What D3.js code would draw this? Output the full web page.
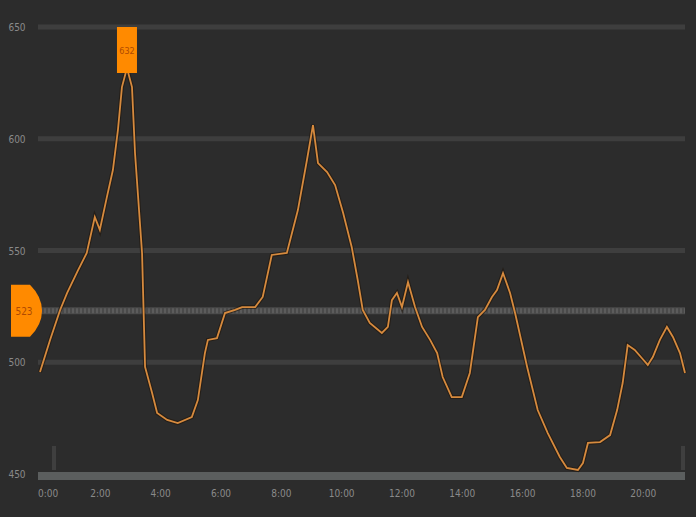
<!DOCTYPE html>
<html>
<head>
<meta charset="utf-8">
<script src="https://cdn.jsdelivr.net/npm/d3@7"></script>
<style>
  html, body { margin: 0; padding: 0; background: #2c2c2c; }
  svg { display: block; }
</style>
</head>
<body>
<div id="chart"></div>
<script>
// Intraday series: minutes since 0:00 and price
const minutes = [0, 20, 40, 54, 76, 93, 109, 119, 133, 145, 155, 163, 173, 183, 189, 203, 209, 223, 233, 253,
    274, 302, 314, 328, 334, 352, 368, 388, 402, 428, 443, 461, 491, 513, 531, 543, 553, 571, 587, 603,
    620, 632, 642, 656, 680, 692, 700, 710, 720, 732, 746, 760, 776, 790, 801, 819, 839, 855, 871, 885,
    899, 909, 921, 935, 945, 969, 990, 1010, 1034, 1048, 1070, 1080, 1090, 1114, 1134, 1148, 1159, 1169, 1183, 1197,
    1209, 1219, 1233, 1247, 1259, 1273, 1283];
const prices = [495.6, 510.0, 523.4, 531.0, 541.3, 548.9, 565.0, 559.2, 573.9, 586.0, 603.9, 623.1, 631.6, 623.1, 593.6, 548.9, 497.9, 486.2, 477.3, 474.2,
    472.8, 475.5, 483.1, 504.1, 510.0, 510.8, 522.0, 523.4, 524.7, 524.7, 529.2, 548.0, 548.9, 568.1, 590.5, 606.1, 589.1, 585.1, 579.3, 566.8,
    551.6, 536.8, 523.4, 517.6, 513.1, 515.8, 527.8, 531.0, 524.7, 535.9, 524.7, 515.8, 510.0, 504.1, 493.4, 484.4, 484.4, 495.2, 520.2, 523.4,
    529.2, 532.3, 539.9, 531.0, 522.0, 497.9, 478.6, 468.3, 457.6, 452.7, 451.8, 454.9, 463.9, 464.3, 467.4, 478.6, 490.7, 507.7, 505.5, 501.9,
    498.8, 502.3, 510.0, 515.8, 511.3, 504.1, 495.2];

const yTicks = [450, 500, 550, 600, 650];
const xTicks = [0, 120, 240, 360, 480, 600, 720, 840, 960, 1080, 1200];
const refValue = 523;

const width = 696, height = 517;
const svg = d3.select("#chart").append("svg")
    .attr("width", width)
    .attr("height", height);

svg.append("rect").attr("width", width).attr("height", height).attr("fill", "#2c2c2c");

const x = d3.scaleLinear().domain([0, 1283]).range([40, 685]);
const y = d3.scaleLinear().domain([450, 650]).range([474, 27]);

const font = "'DejaVu Sans Condensed', 'DejaVu Sans', sans-serif";

// gridlines
svg.append("g")
    .selectAll("line")
    .data(yTicks.slice(1))
    .join("line")
    .attr("x1", 38).attr("x2", 685)
    .attr("y1", d => y(d)).attr("y2", d => y(d))
    .attr("stroke", "#3e3e3e")
    .attr("stroke-width", 5);

// bottom axis band
svg.append("line")
    .attr("x1", 38).attr("x2", 685)
    .attr("y1", y(450) + 2).attr("y2", y(450) + 2)
    .attr("stroke", "#5b5e5e")
    .attr("stroke-width", 8);

// small handles at the ends of the axis
svg.append("g")
    .selectAll("rect")
    .data([52, 681])
    .join("rect")
    .attr("x", d => d).attr("y", 446)
    .attr("width", 4).attr("height", 24)
    .attr("fill", "#3f3f3f");

// reference line (stippled)
svg.append("line")
    .attr("x1", 40).attr("x2", 685)
    .attr("y1", y(refValue)).attr("y2", y(refValue))
    .attr("stroke", "#4a4a4a")
    .attr("stroke-width", 7);
svg.append("line")
    .attr("x1", 40).attr("x2", 685)
    .attr("y1", y(refValue)).attr("y2", y(refValue))
    .attr("stroke", "#5c5c5c")
    .attr("stroke-width", 5)
    .attr("stroke-dasharray", "2,2");

// y labels
svg.append("g")
    .selectAll("text")
    .data(yTicks)
    .join("text")
    .attr("x", 17)
    .attr("y", d => y(d) + 4)
    .attr("text-anchor", "middle")
    .attr("fill", "#8a8a8a")
    .attr("font-family", font)
    .attr("font-size", 10)
    .text(d => d);

// x labels
svg.append("g")
    .selectAll("text")
    .data(xTicks)
    .join("text")
    .attr("x", d => d === 0 ? x(d) - 2 : x(d))
    .attr("y", 497)
    .attr("text-anchor", d => d === 0 ? "start" : "middle")
    .attr("fill", "#8a8a8a")
    .attr("font-family", font)
    .attr("font-size", 10)
    .text(d => (d / 60) + ":00");

// price line
const pts = minutes.map((m, i) => [m, prices[i]]);
const line = d3.line().x(d => x(d[0])).y(d => y(d[1]));

svg.append("path")
    .datum(pts)
    .attr("d", line)
    .attr("fill", "none")
    .attr("stroke", "#20160c")
    .attr("stroke-width", 4)
    .attr("stroke-opacity", 0.6);
svg.append("path")
    .datum(pts)
    .attr("d", line)
    .attr("fill", "none")
    .attr("stroke", "#d68a3e")
    .attr("stroke-width", 1.8);

// max tag
const maxIdx = d3.maxIndex(prices);
const mx = x(minutes[maxIdx]);
svg.append("rect")
    .attr("x", mx - 10).attr("y", 27)
    .attr("width", 20).attr("height", 46)
    .attr("fill", "#ff8a00");
svg.append("text")
    .attr("x", mx).attr("y", 54)
    .attr("text-anchor", "middle")
    .attr("fill", "#b04a00")
    .attr("font-family", font)
    .attr("font-size", 9)
    .text(Math.round(prices[maxIdx]));

// reference value tag at left
const ry = y(refValue);
svg.append("path")
    .attr("d", `M11,${ry - 26} H30 Q42,${ry - 14} 42,${ry} Q42,${ry + 14} 30,${ry + 26} H11 Z`)
    .attr("fill", "#ff8a00");
svg.append("text")
    .attr("x", 24).attr("y", ry + 4)
    .attr("text-anchor", "middle")
    .attr("fill", "#b04a00")
    .attr("font-family", font)
    .attr("font-size", 10)
    .text(refValue);
</script>
</body>
</html>
